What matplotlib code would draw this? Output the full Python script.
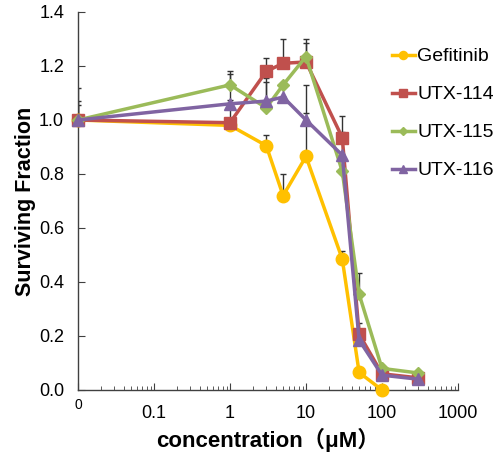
import matplotlib
matplotlib.use("Agg")
import matplotlib.pyplot as plt
from matplotlib.ticker import LogLocator, FixedLocator, NullFormatter

plt.rcParams['font.family'] = ['Liberation Sans', 'Noto Sans CJK SC', 'DejaVu Sans']

# concentrations (uM); the first point is the "0" control drawn at 0.01
conc = [0.01, 1, 3, 5, 10, 30, 50, 100, 300]

gefitinib = [1.0, 0.98, 0.905, 0.72, 0.865, 0.485, 0.065, 0.0]
utx114 = [1.0, 0.99, 1.18, 1.21, 1.215, 0.935, 0.207, 0.06, 0.045]
utx115 = [1.0, 1.13, 1.045, 1.13, 1.235, 0.81, 0.355, 0.08, 0.063]
utx116 = [1.0, 1.06, 1.07, 1.085, 1.0, 0.87, 0.185, 0.055, 0.04]

# upper error bars (plus only)
gefitinib_err = [0.055, 0.0, 0.04, 0.08, 0.265, 0.03, 0.0, 0.0]
utx114_err = [0.12, 0.18, 0.05, 0.09, 0.07, 0.08, 0.04, 0.0, 0.0]
utx115_err = [0.07, 0.05, 0.11, 0.0, 0.065, 0.0, 0.08, 0.0, 0.0]
utx116_err = [0.0, 0.015, 0.07, 0.0, 0.026, 0.085, 0.0, 0.0, 0.0]

series = [
    ("Gefitinib", gefitinib, gefitinib_err, "#FFC000", "o", 9),
    ("UTX-114", utx114, utx114_err, "#C0504D", "s", 8.5),
    ("UTX-115", utx115, utx115_err, "#9BBB59", "D", 6),
    ("UTX-116", utx116, utx116_err, "#8064A2", "^", 8.5),
]

xticks = [0.01, 0.1, 1, 10, 100, 1000]
xticklabels = ["0", "0.1", "1", "10", "100", "1000"]

fig = plt.figure(figsize=(4.93, 4.53), dpi=100)
ax = fig.add_axes([78 / 493, 1 - 390 / 453, (458 - 78) / 493, (390 - 12) / 453])

for name, vals, err, color, marker, ms in series:
    x = conc[:len(vals)]
    ax.errorbar(x, vals, yerr=[[0] * len(err), err], fmt="none", ecolor="#333333",
                elinewidth=1, capsize=2.5, capthick=1, zorder=2)
for name, vals, err, color, marker, ms in series:
    x = conc[:len(vals)]
    ax.plot(x, vals, color=color, marker=marker, markersize=ms, linewidth=2.5,
            label=name, zorder=3, clip_on=False)

ax.set_xscale("log")
ax.set_xlim(0.01, 1000)
ax.set_ylim(0, 1.4)
ax.xaxis.set_major_locator(FixedLocator(xticks))
ax.set_xticklabels(xticklabels)
ax.xaxis.set_minor_locator(LogLocator(base=10, subs=range(2, 10), numticks=20))
ax.xaxis.set_minor_formatter(NullFormatter())
ax.set_yticks([0, 0.2, 0.4, 0.6, 0.8, 1.0, 1.2, 1.4])
ax.set_yticklabels([f"{v:.1f}" for v in ax.get_yticks()])

for s in ["top", "right"]:
    ax.spines[s].set_visible(False)
for s in ["left", "bottom"]:
    ax.spines[s].set_color("#404040")
    ax.spines[s].set_linewidth(1)

ax.tick_params(axis="both", which="both", direction="in", colors="#404040",
               labelcolor="black", labelsize=13)
ax.tick_params(axis="both", which="major", length=5)
ax.tick_params(axis="x", which="minor", length=3)
ax.tick_params(axis="x", which="major", pad=11)
ax.tick_params(axis="y", which="major", pad=10)
zero_lbl = ax.get_xticklabels()[0]
zero_lbl.set_fontsize(10)
zero_lbl.set_x(0.0085)
zero_lbl.set_y(0.02)

ax.set_xlabel("concentration（μM）", fontsize=16, fontweight="bold", labelpad=4)
ax.set_ylabel("Surviving Fraction", fontsize=15.5, fontweight="bold")
ax.yaxis.set_label_coords(-0.11, 0.5)

leg = ax.legend(loc="upper left", bbox_to_anchor=(384 / 493, 1 - 40 / 453),
                bbox_transform=fig.transFigure, frameon=False, fontsize=14,
                handlelength=1.2, handletextpad=0.1, labelspacing=1.05,
                markerscale=0.65, borderaxespad=0)

fig.savefig("out.png", dpi=100)
